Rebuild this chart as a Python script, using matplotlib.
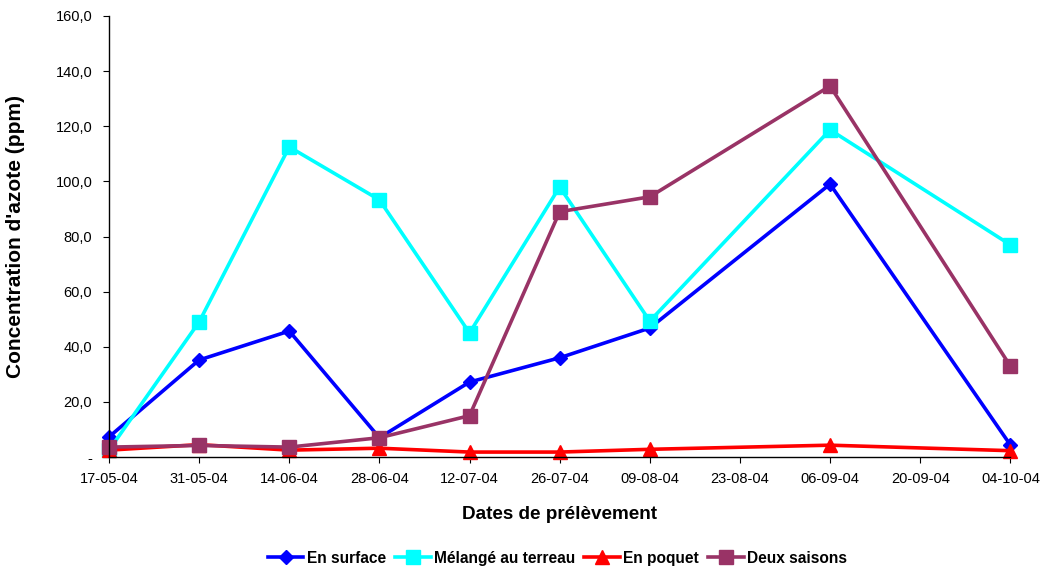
import matplotlib
matplotlib.use("Agg")
import matplotlib.pyplot as plt
import matplotlib.dates as mdates
import pandas as pd
from matplotlib.ticker import FuncFormatter

plt.rcParams['font.family'] = ['Liberation Sans', 'DejaVu Sans']

# dates de prélèvement
dates = ["2004-05-17", "2004-05-31", "2004-06-14", "2004-06-28", "2004-07-12",
         "2004-07-26", "2004-08-09", "2004-09-06", "2004-10-04"]
tick_dates = pd.date_range("2004-05-17", "2004-10-04", freq="14D")

en_surface = [7.3, 35.2, 45.7, 7.0, 27.2, 36.0, 46.8, 99.0, 4.4]
melange = [2.5, 49.0, 112.5, 93.3, 45.0, 98.0, 49.3, 118.7, 77.0]
en_poquet = [2.5, 4.5, 2.5, 3.2, 1.8, 1.8, 2.8, 4.3, 2.3]
deux_saisons = [3.6, 4.2, 3.6, 7.0, 15.0, 89.0, 94.4, 134.6, 33.0]

x = pd.to_datetime(dates)

fig = plt.figure(figsize=(10.42, 5.71), dpi=100)
ax = fig.add_axes([0.1046, 0.1996, 0.865, 0.7724])

ax.plot(x, en_surface, color='#0000FF', lw=2.6, marker='D', ms=7, label='En surface')
ax.plot(x, melange, color='#00FFFF', lw=2.6, marker='s', ms=9.5, label='Mélangé au terreau')
ax.plot(x, en_poquet, color='#FF0000', lw=2.6, marker='^', ms=9.5, label='En poquet')
ax.plot(x, deux_saisons, color='#993366', lw=2.6, marker='s', ms=9.5, label='Deux saisons')

ax.set_xlim(tick_dates[0], tick_dates[-1])
ax.set_ylim(0, 160)
ax.set_yticks(range(0, 161, 20))
ax.yaxis.set_major_formatter(FuncFormatter(
    lambda v, p: '-' if v == 0 else ('%.1f' % v).replace('.', ',')))
ax.set_xticks(tick_dates)
ax.xaxis.set_major_formatter(mdates.DateFormatter('%d-%m-%y'))
ax.tick_params(labelsize=10.5, length=4, color='black')
ax.tick_params(axis='x', pad=7)
ax.tick_params(axis='y', pad=8)

for s in ['top', 'right']:
    ax.spines[s].set_visible(False)
for s in ['left', 'bottom']:
    ax.spines[s].set_linewidth(1)

ax.set_ylabel("Concentration d'azote (ppm)", fontsize=15, fontweight='bold')
ax.yaxis.set_label_coords(-0.093, 0.5)
ax.set_xlabel("Dates de prélèvement", fontsize=13.6, fontweight='bold')
ax.xaxis.set_label_coords(0.5, -0.11)

for l in ax.lines:
    l.set_clip_on(False)

fig.legend(loc='center', bbox_to_anchor=(0.535, 0.022), ncol=4, frameon=False,
           prop={'size': 11.2, 'weight': 'bold'}, handlelength=2.3, handletextpad=0.2,
           columnspacing=0.6)

fig.savefig("out.png", dpi=100)
